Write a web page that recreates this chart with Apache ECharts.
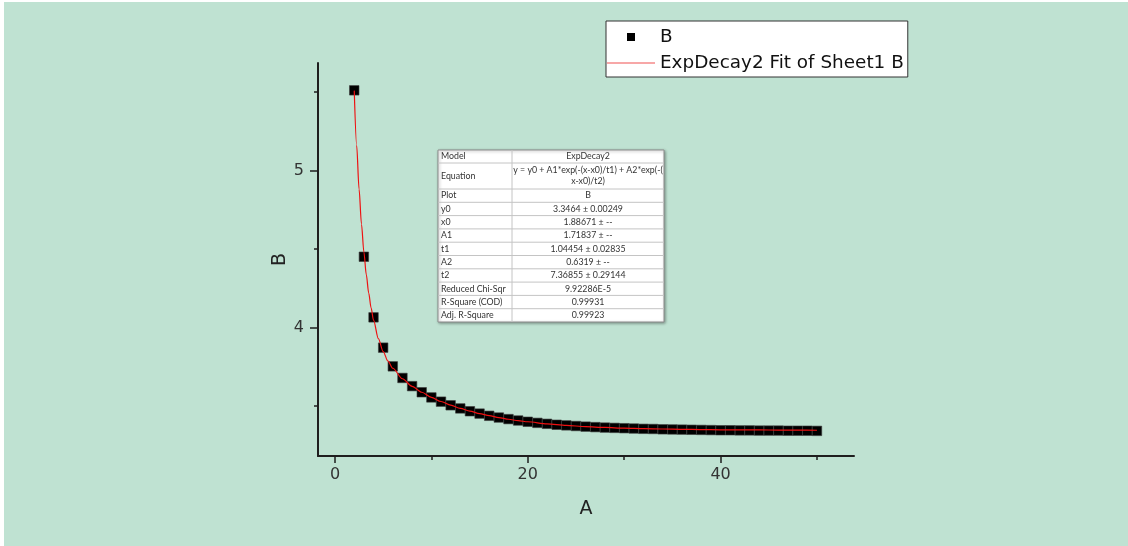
<!DOCTYPE html>
<html>
<head>
<meta charset="utf-8">
<script src="https://cdn.jsdelivr.net/npm/echarts@6/dist/echarts.min.js"></script>
<style>
  html, body { margin: 0; padding: 0; background: #ffffff; width: 1128px; height: 546px; overflow: hidden; }
  #chart { position: absolute; left: 4px; top: 2px; width: 1124px; height: 544px; background: #bfe2d2; }
</style>
</head>
<body>
<div id="chart"></div>
<script>
// ---- data ----
const seriesNames = ['B', 'ExpDecay2 Fit of Sheet1 B'];

const pointX = [2,3,4,5,6,7,8,9,10,11,12,13,14,15,16,17,18,19,20,21,22,23,24,25,26,
                27,28,29,30,31,32,33,34,35,36,37,38,39,40,41,42,43,44,45,46,47,48,49,50];
const pointY = [5.512,4.452,4.066,3.873,3.754,3.680,3.628,3.589,3.556,3.529,3.506,3.486,3.468,
                3.453,3.439,3.428,3.418,3.409,3.401,3.394,3.388,3.382,3.378,3.374,3.370,
                3.367,3.364,3.362,3.360,3.358,3.356,3.355,3.353,3.352,3.351,3.350,3.349,
                3.348,3.347,3.347,3.346,3.346,3.345,3.345,3.345,3.344,3.344,3.344,3.343];

const fitX = [2,2.25,2.5,2.75,3,3.25,3.5,3.75,4,4.5,5,5.5,6,7,8,9,10,11,12,13,14,15,16,17,18,19,20,
              22,24,26,28,30,32,34,36,38,40,42,44,46,48,50];
const fitY = [5.510,5.162,4.883,4.660,4.482,4.338,4.221,4.126,4.048,3.930,3.848,3.787,3.742,3.675,
              3.627,3.589,3.557,3.530,3.507,3.486,3.469,3.453,3.440,3.428,3.417,3.408,3.401,
              3.388,3.378,3.370,3.365,3.360,3.357,3.355,3.353,3.351,3.350,3.349,3.349,3.348,3.348,3.347];

const xMajorTicks = [0, 20, 40];
const xMinorTicks = [10, 30, 50];
const yMajorTicks = [4, 5];
const yMinorTicks = [3.5, 4.5, 5.5];

const tableLabels = ['Model','Equation','Plot','y0','x0','A1','t1','A2','t2',
                     'Reduced Chi-Sqr','R-Square (COD)','Adj. R-Square'];
const tableValues = ['ExpDecay2','y = y0 + A1*exp(-(x-x0)/t1) + A2*exp(-(\nx-x0)/t2)','B',
                     '3.3464 ± 0.00249','1.88671 ± --','1.71837 ± --','1.04454 ± 0.02835',
                     '0.6319 ± --','7.36855 ± 0.29144','9.92286E-5','0.99931','0.99923'];

// ---- layout ----
const FONT = '"DejaVu Sans", sans-serif';
const TFONT = 'Lato, "DejaVu Sans", sans-serif';
const X_MIN = -1.76, X_MAX = 53.84;
const Y_MIN = 3.183, Y_MAX = 5.686;
const axisColor = '#1e1e1e';

const chart = echarts.init(document.getElementById('chart'));

// table graphic
const rowHeights = [13, 26, 13.3,13.3,13.3,13.3,13.3,13.3,13.3,13.3,13.3,13.3];
const tableW = 226, col1W = 74;
const tableChildren = [];
let total = rowHeights.reduce((a,b)=>a+b,0);
tableChildren.push({
  type: 'rect', shape: { x: 0, y: 0, width: tableW, height: total },
  style: { fill: '#ffffff', stroke: '#8c8c8c', lineWidth: 1, shadowBlur: 3, shadowColor: 'rgba(0,0,0,0.35)', shadowOffsetX: 1, shadowOffsetY: 1 }
});
let yy = 0;
tableLabels.forEach((lab, i) => {
  const h = rowHeights[i];
  if (i > 0) {
    tableChildren.push({ type: 'line', shape: { x1: 0, y1: yy, x2: tableW, y2: yy }, style: { stroke: '#c4c4c4', lineWidth: 1 } });
  }
  tableChildren.push({ type: 'text', x: 3, y: yy + h / 2,
    style: { text: lab, fill: '#333', font: '8.8px ' + TFONT, textAlign: 'left', textVerticalAlign: 'middle' } });
  tableChildren.push({ type: 'text', x: col1W + (tableW - col1W) / 2, y: yy + h / 2,
    style: { text: tableValues[i], fill: '#333', font: '8.8px ' + TFONT, textAlign: 'center', textVerticalAlign: 'middle', lineHeight: 11 } });
  yy += h;
});
tableChildren.push({ type: 'line', shape: { x1: col1W, y1: 0, x2: col1W, y2: total }, style: { stroke: '#c4c4c4', lineWidth: 1 } });

const option = {
  backgroundColor: 'transparent',
  animation: false,
  grid: { left: 314, top: 61, right: 274, bottom: 90, containLabel: false },
  legend: {
    orient: 'vertical', left: 602, top: 19,
    padding: [5, 4, 3, 1],
    backgroundColor: '#ffffff', borderColor: '#333', borderWidth: 1,
    itemWidth: 48, itemHeight: 8, itemGap: 4, itemTextGap: 6,
    symbolKeepAspect: true,
    textStyle: { fontFamily: FONT, fontSize: 18.4, color: '#111', lineHeight: 22 },
    data: [
      { name: seriesNames[0], icon: 'path://M0,0L10,0L10,10L0,10Z', itemStyle: { color: '#000000', borderWidth: 0 } },
      { name: seriesNames[1], icon: 'path://M0,0L480,0L480,12L0,12Z', itemStyle: { color: '#f05050', borderWidth: 0 } }
    ]
  },
  xAxis: [
    {
      type: 'value', min: X_MIN, max: X_MAX,
      name: 'A', nameLocation: 'middle', nameGap: 44,
      nameTextStyle: { fontFamily: FONT, fontSize: 19, color: '#222' },
      axisLine: { show: true, onZero: false, lineStyle: { color: axisColor, width: 2 } },
      axisTick: { show: true, length: 7, customValues: xMajorTicks, lineStyle: { color: axisColor, width: 1.5 } },
      axisLabel: { show: true, margin: 11, customValues: xMajorTicks, fontFamily: FONT, fontSize: 16, color: '#333' },
      splitLine: { show: false }
    },
    {
      type: 'value', min: X_MIN, max: X_MAX, position: 'bottom',
      axisLine: { show: false, onZero: false },
      axisTick: { show: true, length: 4, customValues: xMinorTicks, lineStyle: { color: axisColor, width: 1.5 } },
      axisLabel: { show: false },
      splitLine: { show: false }
    }
  ],
  yAxis: [
    {
      type: 'value', min: Y_MIN, max: Y_MAX,
      name: 'B', nameLocation: 'middle', nameGap: 28,
      nameTextStyle: { fontFamily: FONT, fontSize: 19, color: '#222' },
      axisLine: { show: true, onZero: false, lineStyle: { color: axisColor, width: 2 } },
      axisTick: { show: true, length: 8, customValues: yMajorTicks, lineStyle: { color: axisColor, width: 1.5 } },
      axisLabel: { show: true, margin: 14, customValues: yMajorTicks, fontFamily: FONT, fontSize: 16, color: '#333' },
      splitLine: { show: false }
    },
    {
      type: 'value', min: Y_MIN, max: Y_MAX, position: 'left',
      axisLine: { show: false, onZero: false },
      axisTick: { show: true, length: 4, customValues: yMinorTicks, lineStyle: { color: axisColor, width: 1.5 } },
      axisLabel: { show: false },
      splitLine: { show: false }
    }
  ],
  series: [
    {
      name: seriesNames[0], type: 'scatter', xAxisIndex: 0, yAxisIndex: 0,
      symbol: 'rect', symbolSize: 9.5,
      itemStyle: { color: '#000000', borderColor: '#3a3a3a', borderWidth: 0.6, opacity: 1 },
      data: pointX.map((x, i) => [x, pointY[i]]),
      z: 2
    },
    {
      name: seriesNames[1], type: 'line', xAxisIndex: 0, yAxisIndex: 0,
      showSymbol: false, symbol: 'none', smooth: 0.3, smoothMonotone: 'x',
      lineStyle: { color: '#ee1111', width: 1.2 },
      itemStyle: { color: '#ee1111' },
      data: fitX.map((x, i) => [x, fitY[i]]),
      z: 3
    }
  ],
  graphic: [
    { type: 'group', x: 434, y: 148, children: tableChildren, z: 10 }
  ]
};
chart.setOption(option);
</script>
</body>
</html>
